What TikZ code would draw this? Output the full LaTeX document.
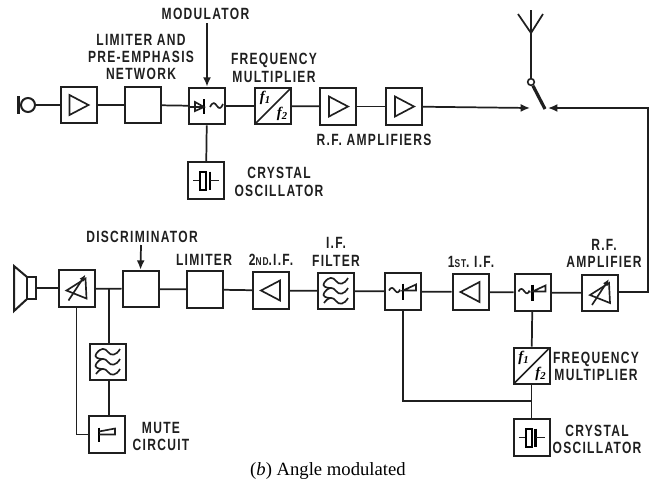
\documentclass[tikz,border=0pt]{standalone}
\usepackage{fontspec}
\usetikzlibrary{arrows.meta}
\newfontfamily\lab[FakeStretch=0.74,LetterSpace=8]{Liberation Sans Bold}
\newfontfamily\capf{Liberation Serif}
\newcommand{\smalltxt}[1]{{\fontsize{8.5}{10}\selectfont #1}}
\tikzset{
  x=0.75pt,y=-0.75pt,
  blk/.style={draw=black!88,line width=1.5pt,minimum width=27pt,minimum height=27.5pt,inner sep=0pt},
  wire/.style={draw=black!88,line width=1.3pt},
  sym/.style={draw=black!88,line width=1.25pt,line join=miter},
  lbl/.style={font=\lab\fontsize{12.2}{13}\selectfont,align=center,inner sep=0pt,text=black!88},
  arr/.style={wire,-{Latex[length=7pt,width=6pt]}},
  ampright/.pic={\draw[sym] (-9,-10)--(10,0)--(-9,10)--cycle;},
  ampleft/.pic={\draw[sym] (9,-10)--(-10,0)--(9,10)--cycle;},
  varamp/.pic={\draw[sym] (9,-10)--(-10,2)--(10,10)--cycle;
     \draw[sym,-{Latex[length=5pt,width=4pt]}] (-8,12)--(9,-14);},
  modsym/.pic={\draw[sym] (-17,1)--(-3,1);\draw[line width=1.8pt] (-3,-7)--(-3,8);
     \draw[sym] (-3,1)--(-12,-4)--(-12,5)--cycle;
     \draw[sym] (3,1) .. controls (6,-5) and (8,-3) .. (10,0) .. controls (12,3) and (14,3) .. (16,-2);},
  mixsym/.pic={\draw[sym] (-14,-1) .. controls (-12,-5) and (-10,-4) .. (-8,-1) .. controls (-6,2) and (-4,1) .. (-3,-2);
     \draw[line width=1.8pt] (0,-8)--(0,8);\draw[sym] (0,-1)--(13,-1)--(13,-7)--cycle;},
  mutesym/.pic={\draw[line width=1.8pt] (-8,-7)--(-8,7);\draw[sym] (-8,0)--(8,0)--(8,-6)--(-8,-3);},
  xtal/.pic={\draw[sym] (-13,0)--(-6,0);\draw[line width=1.5pt] (-6,-9) rectangle (0,9);
     \draw[line width=1.8pt] (4,-9)--(4,9);\draw[sym] (4,0)--(13,0);},
  fmult/.pic={\draw[sym] (-17,17)--(17,-17);
     \node[inner sep=0pt,font=\capf\itshape\bfseries\fontsize{11}{11}\selectfont] at (-8,-8) {f\raisebox{-1.5pt}{\fontsize{8}{8}\selectfont 1}};
     \node[inner sep=0pt,font=\capf\itshape\bfseries\fontsize{11}{11}\selectfont] at (9,8) {f\raisebox{-1.5pt}{\fontsize{8}{8}\selectfont 2}};},
  filt/.pic={\foreach \yy in {-10,0,10}{
     \draw[sym] (-12,\yy+2) .. controls (-7,\yy-5) and (-3,\yy-4) .. (0,\yy) .. controls (3,\yy+4) and (8,\yy+4) .. (12,\yy-3);}
     \draw[sym] (-12,-8) .. controls (-14,-5) and (-10,-3) .. (-6,-3);
     \draw[sym] (-12,2) .. controls (-14,5) and (-10,7) .. (-6,7);},
}
\begin{document}
\begin{tikzpicture}
\useasboundingbox (0,0) rectangle (650,480);
% top row
\node[blk] (a1) at (78.5,105) {};
\node[blk] (lim) at (142.5,105) {};
\node[blk] (mod) at (207,106) {};
\node[blk] (fm) at (273,106) {};
\node[blk] (a2) at (338,106.5) {};
\node[blk] (a3) at (404,106.5) {};
\node[blk] (xo) at (206,180.5) {};
% microphone
\node[draw=black!88,circle,line width=1.5pt,minimum size=10.5pt,inner sep=0pt] (mic) at (28,105) {};
\coordinate (mt) at (18.5,96); \coordinate (mb) at (18.5,114);
\draw[line width=2.2pt,black!88] (mt)--(mb);
% antenna & switch
\node[draw=black!88,circle,line width=1.2pt,minimum size=5pt,inner sep=0pt,fill=white] (pole) at (531,82) {};
\coordinate (ant) at (531,33); \coordinate (antt) at (531,10);
\coordinate (antl) at (518,14); \coordinate (antr) at (543,14);
\coordinate (arm) at (545,109);
\coordinate (inL) at (530,108); \coordinate (inR) at (548,108);
\coordinate (c1) at (648,108); \coordinate (c2) at (648,292);
\draw[wire] (pole)--(ant)--(antt) (antl)--(ant)--(antr);
\draw[line width=2.4pt,black!88] (pole)--(arm);
% bottom row
\node[blk] (b1) at (76.5,288.5) {};
\node[blk] (disc) at (140.5,289) {};
\node[blk] (blim) at (205,289.5) {};
\node[blk] (if2) at (271,290.5) {};
\node[blk] (filt) at (336,291) {};
\node[blk] (mx1) at (403,291.5) {};
\node[blk] (if1) at (470.5,292) {};
\node[blk] (mx2) at (532.5,292.5) {};
\node[blk] (rf) at (600,293) {};
\node[blk] (fm2) at (531.5,366) {};
\node[blk] (xo2) at (531.5,437.5) {};
\node[blk] (mfl) at (108,362) {};
\node[blk] (mute) at (107,434.5) {};
% speaker
\node[draw=black!88,line width=1.5pt,minimum width=6.5pt,minimum height=16.5pt,inner sep=0pt] (spk) at (31.5,288) {};
\coordinate (s1) at (27,277); \coordinate (s2) at (14,266); \coordinate (s3) at (14,311); \coordinate (s4) at (27,299);
\draw[line width=1.5pt,black!88] (s1)--(s2)--(s3)--(s4);
% symbols
\path (a1) pic {ampright} (a2) pic {ampright} (a3) pic {ampright} (mod) pic {modsym} (fm) pic {fmult}
 (xo) pic {xtal} (b1) pic {varamp} (if2) pic {ampleft} (filt) pic {filt} (mx1) pic {mixsym}
 (if1) pic {ampleft} (mx2) pic {mixsym} (rf) pic {varamp} (fm2) pic {fmult} (xo2) pic {xtal}
 (mfl) pic {filt} (mute) pic {mutesym};
% connectors top
\draw[wire] (mic)--(a1);
\draw[wire] (a1)--(lim);
\draw[wire] (lim)--(mod);
\draw[wire] (mod)--(fm);
\draw[wire] (fm)--(a2);
\draw[wire] (a2)--(a3);
\draw[wire] (mod)--(xo);
\draw[arr] (a3)--(inL);
\draw[arr] (rf.east|-c2)--(c2)--(c1)--(inR);
% connectors bottom
\draw[wire] (spk)--(b1.west|-spk);
\draw[wire] (b1)--(disc);
\draw[wire] (disc)--(blim);
\draw[wire] (blim)--(if2);
\draw[wire] (if2)--(filt);
\draw[wire] (filt)--(mx1);
\draw[wire] (mx1)--(if1);
\draw[wire] (if1)--(mx2);
\draw[wire] (mx2)--(rf);
\draw[wire] (mx2)--(fm2);
\draw[wire] (fm2)--(xo2);
\coordinate (jb) at (531.5,401); 
\draw[wire] (mx1.south)--(mx1.south|-jb)--(jb);
\coordinate (jd) at (109,289);
\draw[wire] (mfl.north-|jd)--(jd);
\draw[wire] (mfl.south-|jd)--(mute.north-|jd);
\draw[wire] (b1.south)--(b1.south|-mute)--(mute.west);
% labels
\node[lbl] (tmod) at (205.5,14) {MODULATOR};
\coordinate (mtop) at (207,23);
\draw[arr] (mtop)--(mod.north);
\node[lbl,align=center] (tlim) at (141,57) {LIMITER AND\\PRE-EMPHASIS\\NETWORK};
\node[lbl] (tfm) at (274,68) {FREQUENCY\\MULTIPLIER};
\node[lbl] (trf) at (374,139.5) {R.F. AMPLIFIERS};
\node[lbl] (txo) at (279,182) {CRYSTAL\\OSCILLATOR};
\node[lbl] (tdisc) at (142,236.5) {DISCRIMINATOR};
\coordinate (dtop) at (141,245);
\draw[arr] (dtop)--(disc.north);
\node[lbl] (tl) at (204,259.5) {LIMITER};
\node[lbl] (t2) at (271,260) {2\smalltxt{ND}.I.F.};
\node[lbl] (tf) at (336,252) {I.F.\\FILTER};
\node[lbl] (t1) at (471,262) {1\smalltxt{ST}. I.F.};
\node[lbl] (trfa) at (604,253.5) {R.F.\\AMPLIFIER};
\node[lbl] (tfm2) at (596,366.5) {FREQUENCY\\MULTIPLIER};
\node[lbl] (txo2) at (597,439.5) {CRYSTAL\\OSCILLATOR};
\node[lbl] (tm) at (161,436.5) {MUTE\\CIRCUIT};
\node[inner sep=0pt,font=\capf\fontsize{14}{16}\selectfont] (cap) at (328,471) {(\textit{b}) Angle modulated};
\end{tikzpicture}
\end{document}
